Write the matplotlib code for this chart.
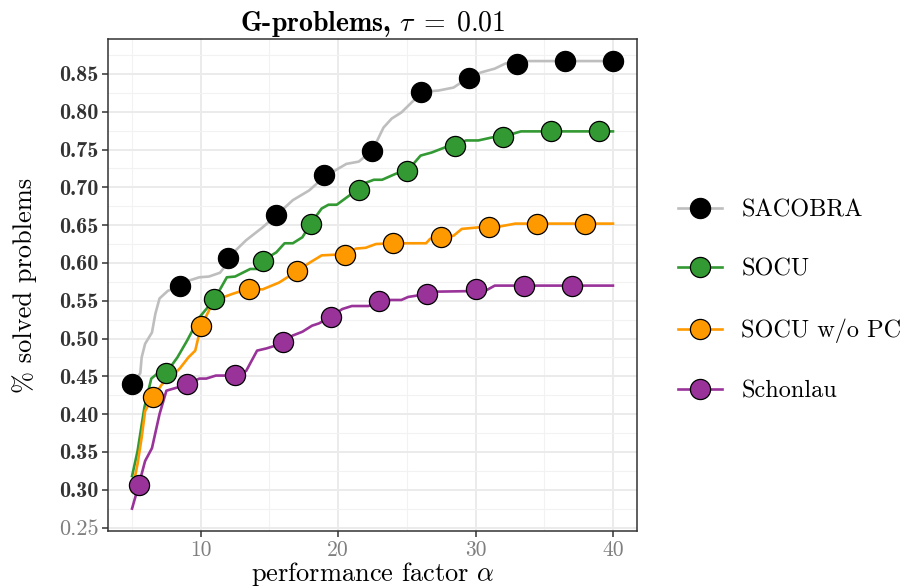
import matplotlib
matplotlib.use("Agg")
import matplotlib.pyplot as plt
from matplotlib.lines import Line2D

plt.rcParams['font.family'] = ['cmr10', 'DejaVu Serif']
plt.rcParams['mathtext.fontset'] = 'cm'
plt.rcParams['axes.unicode_minus'] = False

# series names and colours
names = ["SACOBRA", "SOCU", "SOCU w/o PC", "Schonlau"]
colors = ["#BEBEBE", "#339933", "#FF9900", "#993399"]
fills = ["#000000", "#339933", "#FF9900", "#993399"]

# SACOBRA
sac_x = [5, 5.6, 5.7, 5.95, 6.45, 6.7, 7.0, 7.6, 8.5, 9.2, 9.9, 10.6, 11.4, 11.7, 12, 13.3, 14.5,
         15.5, 16.7, 17.9, 19, 20.6, 21.5, 22.5, 23.3, 23.9, 24.6, 25.5, 26, 27.3, 28.4, 29.4,
         30.4, 31.4, 32.2, 33.6, 40]
sac_y = [0.440, 0.454, 0.475, 0.493, 0.508, 0.533, 0.553, 0.563, 0.570, 0.577, 0.581, 0.582, 0.587,
         0.594, 0.607, 0.630, 0.647, 0.663, 0.683, 0.696, 0.714, 0.731, 0.734, 0.749, 0.779, 0.791,
         0.799, 0.815, 0.826, 0.828, 0.832, 0.844, 0.852, 0.857, 0.864, 0.867, 0.867]
sac_mx = [5, 8.5, 12, 15.5, 19, 22.5, 26, 29.5, 33, 36.5, 40]
sac_my = [0.440, 0.570, 0.607, 0.663, 0.716, 0.748, 0.826, 0.844, 0.863, 0.867, 0.867]

# SOCU
socu_x = [5, 5.4, 5.9, 6.4, 6.8, 7.5, 8.3, 9.0, 9.9, 11, 11.9, 12.5, 13.6, 14.1, 14.5, 15.5, 16.1,
          16.7, 17.4, 18, 18.8, 19.3, 19.9, 20.8, 21.4, 22.0, 22.6, 23.2, 24.2, 25, 26, 26.8, 27.8,
          28.5, 29.3, 30.2, 31.2, 32, 33.3, 40]
socu_y = [0.318, 0.351, 0.409, 0.447, 0.453, 0.455, 0.475, 0.497, 0.528, 0.552, 0.581, 0.582, 0.592,
          0.592, 0.603, 0.614, 0.626, 0.626, 0.634, 0.652, 0.672, 0.677, 0.677, 0.689, 0.696, 0.706,
          0.710, 0.710, 0.718, 0.721, 0.742, 0.746, 0.753, 0.755, 0.762, 0.762, 0.766, 0.767, 0.774,
          0.774]
socu_mx = [7.5, 11, 14.5, 18, 21.5, 25, 28.5, 32, 35.5, 39]
socu_my = [0.455, 0.552, 0.603, 0.652, 0.696, 0.721, 0.755, 0.767, 0.774, 0.774]

# SOCU w/o PC
nopc_x = [5, 5.4, 5.7, 5.95, 6.5, 7.2, 7.75, 8.5, 9.1, 9.6, 10, 10.65, 11.4, 12.3, 13.5, 14.5, 15.7,
          17, 17.9, 18.8, 19.9, 20.5, 21.3, 22.0, 22.75, 24, 26.4, 26.7, 27.5, 28.4, 29, 30.2, 31,
          31.7, 32.9, 40]
nopc_y = [0.298, 0.334, 0.369, 0.404, 0.422, 0.440, 0.447, 0.461, 0.475, 0.484, 0.515, 0.539, 0.553,
          0.559, 0.566, 0.565, 0.574, 0.589, 0.600, 0.610, 0.611, 0.611, 0.619, 0.620, 0.625, 0.626,
          0.626, 0.632, 0.633, 0.636, 0.645, 0.647, 0.648, 0.648, 0.652, 0.652]
nopc_mx = [6.5, 10, 13.5, 17, 20.5, 24, 27.5, 31, 34.5, 38]
nopc_my = [0.422, 0.516, 0.566, 0.589, 0.610, 0.626, 0.634, 0.647, 0.652, 0.652]

# Schonlau
sch_x = [5, 5.5, 5.95, 6.45, 7.0, 7.5, 8.25, 9, 9.9, 10.4, 11.1, 11.9, 12.5, 13.3, 14.1, 14.8, 15.5,
         16, 16.7, 17.4, 18.1, 18.6, 19.5, 20.3, 21.0, 22.2, 23, 23.8, 24.6, 25.1, 26.5, 27.1, 30.7,
         31.4, 40]
sch_y = [0.275, 0.307, 0.338, 0.355, 0.400, 0.431, 0.435, 0.440, 0.447, 0.447, 0.451, 0.451, 0.452,
         0.457, 0.484, 0.487, 0.491, 0.496, 0.504, 0.509, 0.517, 0.520, 0.529, 0.539, 0.543, 0.543,
         0.548, 0.551, 0.551, 0.555, 0.559, 0.562, 0.563, 0.570, 0.570]
sch_mx = [5.5, 9, 12.5, 16, 19.5, 23, 26.5, 30, 33.5, 37]
sch_my = [0.306, 0.440, 0.452, 0.496, 0.529, 0.550, 0.559, 0.566, 0.570, 0.570]

lines_x = [sac_x, socu_x, nopc_x, sch_x]
lines_y = [sac_y, socu_y, nopc_y, sch_y]
marks_x = [sac_mx, socu_mx, nopc_mx, sch_mx]
marks_y = [sac_my, socu_my, nopc_my, sch_my]

x_ticks = [10, 20, 30, 40]
y_ticks = [0.25, 0.30, 0.35, 0.40, 0.45, 0.50, 0.55, 0.60, 0.65, 0.70, 0.75, 0.80, 0.85]

fig = plt.figure(figsize=(9.04, 5.86), dpi=100)
ax = fig.add_axes([108 / 904, 1 - 531 / 586, 529 / 904, 492 / 586])

for i in range(4):
    ax.plot(lines_x[i], lines_y[i], color=colors[i], lw=1.9, zorder=2, solid_joinstyle='round')
for i in range(4):
    ax.plot(marks_x[i], marks_y[i], ls='none', marker='o', ms=14.5, mfc=fills[i], mec='black',
            mew=0.9, zorder=3)

ax.set_xlim(3.25, 41.75)
ax.set_ylim(0.2454, 0.8962)

ax.set_xticks(x_ticks)
ax.set_xticks([5, 15, 25, 35], minor=True)
ax.set_yticks(y_ticks)
ax.set_yticks([v + 0.025 for v in y_ticks], minor=True)
ax.set_xticklabels([str(v) for v in x_ticks], fontsize=15.5, color='#7F7F7F')
ax.set_yticklabels(["%.2f" % v for v in y_ticks], fontsize=16)
for lab in ax.get_yticklabels():
    if lab.get_text() == "0.25":
        lab.set_color('#7F7F7F')
    else:
        lab.set_fontfamily('cmb10')
        lab.set_color('#333333')

ax.grid(True, which='major', color='#EBEBEB', lw=1.4, zorder=0)
ax.grid(True, which='minor', color='#F2F2F2', lw=0.8, zorder=0)
ax.set_axisbelow(True)
ax.tick_params(which='major', length=4, width=1.1, color='#333333', pad=2.5)
ax.tick_params(which='minor', length=0)
for s in ax.spines.values():
    s.set_color('#333333')
    s.set_linewidth(1.1)

ax.set_xlabel(r"performance factor $\alpha$", fontsize=19, labelpad=0)
ax.set_ylabel(r"% solved problems", fontsize=19, labelpad=16)
ax.set_title(r"G-problems, $\tau \;=\; 0.01$", fontsize=20, fontfamily='cmb10', pad=6)

handles = [Line2D([0], [0], color=colors[i], lw=1.9, marker='o', ms=14.5, mfc=fills[i],
                  mec='black', mew=0.9) for i in range(4)]
fig.legend(handles, names, loc='center left', bbox_to_anchor=(678 / 904, 1 - 301 / 586),
           frameon=False, fontsize=17.5, handlelength=1.8, labelspacing=1.55, handletextpad=0.8,
           borderaxespad=0, borderpad=0)

fig.savefig("out.png", dpi=100)
